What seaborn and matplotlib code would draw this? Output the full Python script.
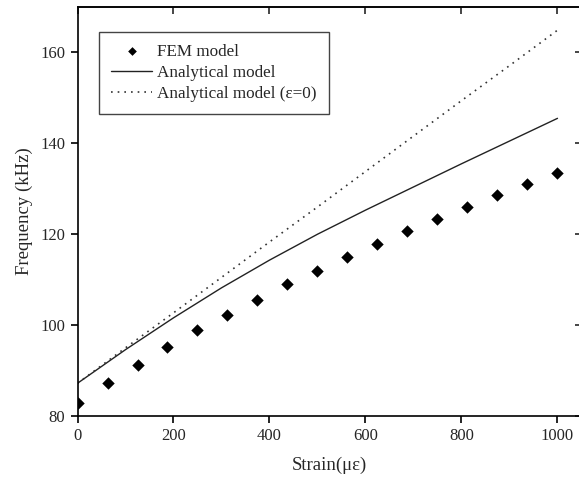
import matplotlib
matplotlib.use("Agg")
import matplotlib.pyplot as plt
import seaborn as sns
import pandas as pd

# FEM results
fem_strain = [0, 62.5, 125, 187.5, 250, 312.5, 375, 437.5, 500,
              562.5, 625, 687.5, 750, 812.5, 875, 937.5, 1000]
fem_freq = [82.9, 87.2, 91.2, 95.1, 98.9, 102.2, 105.6, 109.0, 112.0,
            114.9, 117.8, 120.6, 123.3, 125.9, 128.6, 131.0, 133.5]

# analytical curves
ana_strain = [0, 100, 200, 300, 400, 500, 600, 700, 800, 900, 1000]
ana_freq = [87.2, 94.6, 101.6, 108.2, 114.3, 120.0, 125.3, 130.4, 135.5, 140.5, 145.5]
ana0_freq = [87.2, 95.0, 102.7, 110.5, 118.3, 126.0, 133.8, 141.6, 149.4, 157.1, 164.9]

sns.set_style("ticks")
plt.rcParams["font.family"] = ["Liberation Serif", "DejaVu Serif"]
plt.rcParams["font.size"] = 12
plt.rcParams["axes.linewidth"] = 1.2

fem = pd.DataFrame({"strain": fem_strain, "freq": fem_freq})
ana = pd.DataFrame({"strain": ana_strain, "freq": ana_freq, "freq0": ana0_freq})

fig = plt.figure(figsize=(5.79, 4.8), dpi=100)
ax = fig.add_axes([77.5 / 579, 64 / 480, 504 / 579, 409 / 480])

sns.scatterplot(data=fem, x="strain", y="freq", marker="D", s=40, color="black",
                edgecolor="black", linewidth=0, label="FEM model", ax=ax, zorder=3)
sns.lineplot(data=ana, x="strain", y="freq", color="#222222", linewidth=1.0,
             label="Analytical model", ax=ax)
sns.lineplot(data=ana, x="strain", y="freq0", color="#333333", linewidth=1.2,
             linestyle=(0, (1, 3)), label="Analytical model (\u03b5=0)", ax=ax)

ax.set_xlim(0, 1050)
ax.set_ylim(80, 170)
ax.set_xticks([0, 200, 400, 600, 800, 1000])
ax.set_yticks([80, 100, 120, 140, 160])
ax.set_xlabel("Strain(\u03bc\u03b5)", labelpad=9, fontsize=13.5)
ax.set_ylabel("Frequency (kHz)", labelpad=5, fontsize=13.5)

for side in ["top", "left", "bottom"]:
    ax.spines[side].set_visible(True)
    ax.spines[side].set_color("black")
ax.spines["right"].set_visible(False)
ax.tick_params(axis="both", which="major", length=5, width=1.2, color="black",
               labelsize=12, pad=4)
# inward ticks on top and right
ax2 = ax.secondary_xaxis("top")
ax2.set_xticks([0, 200, 400, 600, 800, 1000])
ax2.tick_params(direction="in", length=5, width=1.2, labeltop=False)
ax3 = ax.secondary_yaxis("right")
ax3.set_yticks([80, 100, 120, 140, 160])
ax3.tick_params(direction="in", length=5, width=1.2, labelright=False)
ax3.spines["right"].set_visible(False)

leg = ax.legend(loc="upper left", bbox_to_anchor=(0.043, 0.939), borderaxespad=0,
                frameon=True, fancybox=False, edgecolor="#444444", framealpha=1,
                handlelength=2.4, handletextpad=0.3, labelspacing=0.3,
                borderpad=0.7, fontsize=12.3, markerscale=0.7)
leg.get_frame().set_linewidth(1.0)

fig.savefig("out.png", dpi=100)
